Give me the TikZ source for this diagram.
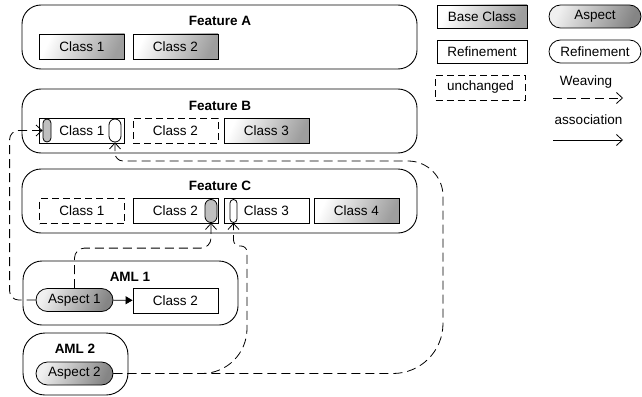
\documentclass[tikz,border=0pt]{standalone}
\usepackage{fontspec}
\setmainfont{Liberation Sans}
\usetikzlibrary{arrows.meta}

\begin{document}
\begin{tikzpicture}[
  x=1pt, y=-1pt,
  every node/.style={font=\fontsize{13.5}{15}\selectfont, inner sep=0pt},
  feat/.style={draw, line width=0.9pt, rounded corners=19pt},
  ttl/.style={font=\fontsize{13.5}{15}\selectfont\bfseries},
  cls/.style={draw, line width=0.8pt, minimum width=85pt, minimum height=25pt},
  base/.style={cls, top color=white, bottom color=black!38, shading angle=65},
  unch/.style={cls, dash pattern=on 7pt off 4pt},
  asp/.style={draw, line width=0.8pt, rounded corners=11.5pt, minimum width=77pt, minimum height=23pt,
    top color=black!6, bottom color=black!48, shading angle=65},
  refo/.style={draw, line width=0.8pt, rounded corners=11.5pt, minimum width=92pt, minimum height=23pt},
  slot/.style={draw, line width=0.8pt, minimum height=23pt},
  weave/.style={line width=0.8pt, dash pattern=on 9pt off 5pt, -{Straight Barb[length=6pt,width=11pt]}},
  assoc/.style={line width=0.8pt, -{Triangle[length=7pt,width=8pt]}}
]
\useasboundingbox (0,0) rectangle (642,396);

\node[feat, minimum width=395pt, minimum height=64pt] (fa) at (219.5,37) {};
\node[ttl] (fat) at (220,20.5) {Feature A};
\node[base] (fa1) at (82,46.5) {Class 1};
\node[base] (fa2) at (175.5,46.5) {Class 2};

\node[feat, minimum width=395pt, minimum height=64pt] (fb) at (219.5,121) {};
\node[ttl] (fbt) at (220,105.5) {Feature B};
\node[cls] (fb1) at (82,130.5) {Class 1};
\node[slot, rounded corners=4pt, minimum width=8pt, fill=black!25] (b1a) at (47,130.5) {};
\node[slot, rounded corners=6pt, minimum width=12pt] (b1b) at (115,130.5) {};
\node[unch] (fb2) at (175.5,130.5) {Class 2};
\node[base] (fb3) at (266.5,130.5) {Class 3};

\node[feat, minimum width=395pt, minimum height=64pt] (fc) at (219.5,201) {};
\node[ttl] (fct) at (220,185.5) {Feature C};
\node[unch] (fc1) at (82,211) {Class 1};
\node[cls] (fc2) at (175.5,211) {Class 2};
\node[slot, rounded corners=6pt, minimum width=12pt, fill=black!25] (c2a) at (211,211) {};
\node[cls] (fc3) at (266.5,211) {Class 3};
\node[slot, rounded corners=3.5pt, minimum width=7pt] (c3a) at (233.5,211) {};
\node[base] (fc4) at (356.5,211) {Class 4};

\node[feat, minimum width=215pt, minimum height=64pt] (m1) at (130.5,293) {};
\node[ttl] (m1t) at (130,277) {AML 1};
\node[asp] (asp1) at (74.5,300) {Aspect 1};
\node[cls] (m1c) at (175.5,300.5) {Class 2};

\node[feat, rounded corners=22pt, minimum width=105pt, minimum height=62pt] (m2) at (75.5,364) {};
\node[ttl] (m2t) at (75,348.5) {AML 2};
\node[asp] (asp2) at (74.5,373.5) {Aspect 2};

\draw[assoc] (asp1) -- (m1c);
\draw[weave, rounded corners=9pt] (asp1.west) -- ++(-26,0) |- (b1a.west);
\draw[weave, rounded corners=10pt] (asp1.north) -- ++(0,-40) -| (c2a.south);
\draw[weave] (asp2.east) [rounded corners=50pt] -- (443,373.5) [rounded corners=35pt] -- (443,161)
  [rounded corners=8pt] -- (b1b.south |- 0,161) -- (b1b.south);
\draw[weave] (asp2.east) [rounded corners=45pt] -- (247,373.5) [rounded corners=6pt] -- (247,246)
  -- (c3a.south |- 0,246) -- (c3a.south);

\node[base, minimum width=90pt, minimum height=23pt] (lb) at (482,16.5) {Base Class};
\node[asp, minimum width=92pt] (la) at (595,16.5) {Aspect};
\node[cls, minimum width=90pt, minimum height=23pt] (lr) at (482,51.5) {Refinement};
\node[refo] (lro) at (595,51.5) {Refinement};
\node[unch, minimum width=90pt] (lu) at (480.5,87.5) {unchanged};
\node (lw) at (586,82) {Weaving};
\coordinate (wv1) at (553,98);
\coordinate (wv2) at (623,98);
\draw[weave] (wv1) -- (wv2);
\node (lac) at (588.5,120) {association};
\coordinate (as1) at (553,140);
\coordinate (as2) at (623,140);
\draw[line width=0.8pt, -{Straight Barb[length=6pt,width=11pt]}] (as1) -- (as2);
\end{tikzpicture}
\end{document}
